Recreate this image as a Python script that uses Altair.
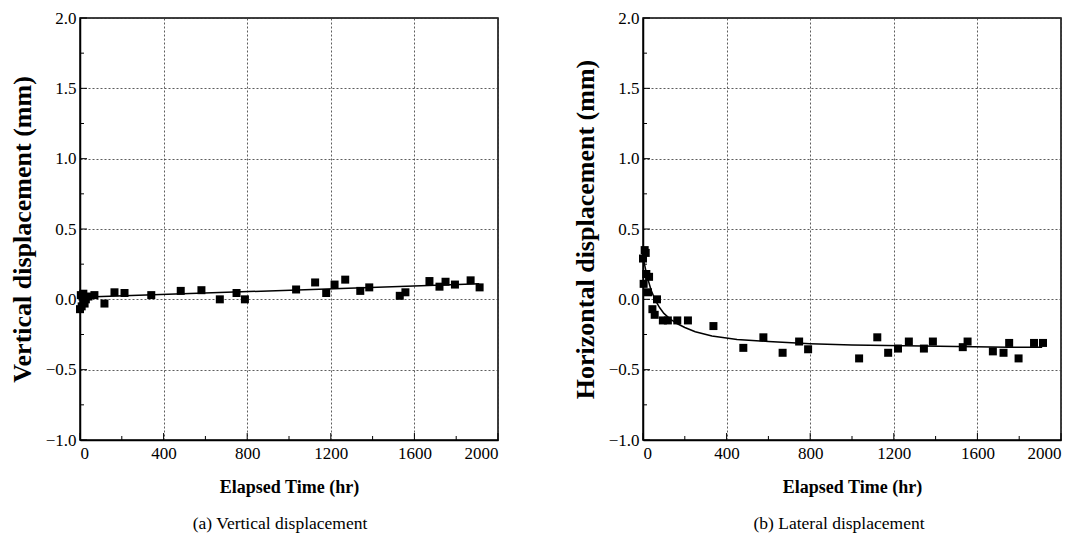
import altair as alt
import pandas as pd

# ---- data ----
left_t = [0, 4, 8, 12, 16, 22, 28, 40, 69, 117, 165, 213, 341, 482, 581, 669, 749, 789,
          1034, 1125, 1178, 1218, 1269, 1341, 1384, 1530, 1557, 1672, 1720, 1749, 1794, 1869, 1912]
left_v = [-0.07, 0.03, -0.05, 0.02, 0.04, -0.03, 0.0, 0.02, 0.03, -0.03, 0.05, 0.045, 0.03, 0.06,
          0.065, 0.0, 0.045, 0.0, 0.07, 0.12, 0.045, 0.105, 0.14, 0.06, 0.085, 0.025, 0.05, 0.13,
          0.09, 0.125, 0.105, 0.135, 0.085]
left_fit_t = [0, 1910]
left_fit_v = [0.015, 0.11]

right_t = [0, 3, 8, 13, 16, 24, 29, 45, 56, 67, 95, 119, 164, 215, 337, 480, 576, 668, 747, 790,
           1034, 1121, 1173, 1220, 1272, 1344, 1387, 1530, 1553, 1674, 1725, 1752, 1797, 1871, 1914]
right_v = [0.29, 0.11, 0.35, 0.33, 0.18, 0.05, 0.16, -0.07, -0.11, 0.0, -0.15, -0.15, -0.15, -0.15,
           -0.19, -0.345, -0.27, -0.38, -0.30, -0.355, -0.42, -0.27, -0.38, -0.35, -0.30, -0.35,
           -0.30, -0.34, -0.30, -0.37, -0.38, -0.31, -0.42, -0.31, -0.31]
right_fit_t = [0, 20, 40, 60, 80, 100, 130, 160, 200, 250, 330, 450, 600, 800, 1000, 1250, 1500, 1750, 1910]
right_fit_v = [0.30, 0.16, 0.06, -0.01, -0.06, -0.10, -0.14, -0.17, -0.20, -0.23, -0.26, -0.285,
               -0.30, -0.315, -0.325, -0.33, -0.335, -0.34, -0.34]

x_labels = [0, 400, 800, 1200, 1600, 2000]
x_minor = [200, 600, 1000, 1400, 1800]
y_labels = [-1.0, -0.5, 0.0, 0.5, 1.0, 1.5, 2.0]
y_minor = [-0.75, -0.25, 0.25, 0.75, 1.25, 1.75]

W, H = 418, 422
SERIF = "Liberation Serif, Times New Roman, serif"


def panel(pt_t, pt_v, fit_t, fit_v, ytitle, caption, cap_dx):
    xs = alt.Scale(domain=[0, 2000], nice=False, zero=False)
    ys = alt.Scale(domain=[-1, 2], nice=False, zero=False)
    df_pts = pd.DataFrame({"t": pt_t, "v": pt_v})
    df_fit = pd.DataFrame({"t": fit_t, "v": fit_v})

    X = alt.X("t:Q", scale=xs, axis=alt.Axis(
        values=x_labels, format="d", title="Elapsed Time (hr)",
        labelFont=SERIF, labelFontSize=17, titleFont=SERIF, titleFontSize=18,
        titleFontWeight="bold", titlePadding=17, labelPadding=5))
    Y = alt.Y("v:Q", scale=ys, axis=alt.Axis(
        values=y_labels, format=".1f", title=ytitle,
        labelFont=SERIF, labelFontSize=17, titleFont=SERIF, titleFontSize=26,
        titleFontWeight="bold", titlePadding=10, labelPadding=4))

    pts = alt.Chart(df_pts).mark_square(size=64, color="black", opacity=1).encode(x=X, y=Y)
    fit = alt.Chart(df_fit).mark_line(color="black", strokeWidth=1.5).encode(x=X, y=Y)

    xmaj = alt.Chart(pd.DataFrame({"t": x_labels})).mark_rule(color="black").encode(
        x=X, y=alt.value(H), y2=alt.value(H - 7))
    xmin = alt.Chart(pd.DataFrame({"t": x_minor})).mark_rule(color="black").encode(
        x=X, y=alt.value(H), y2=alt.value(H - 4))
    ymaj = alt.Chart(pd.DataFrame({"v": y_labels})).mark_rule(color="black").encode(
        y=Y, x=alt.value(0), x2=alt.value(7))
    ymin = alt.Chart(pd.DataFrame({"v": y_minor})).mark_rule(color="black").encode(
        y=Y, x=alt.value(0), x2=alt.value(4))

    return alt.layer(pts, fit, xmaj, xmin, ymaj, ymin).properties(
        width=W, height=H,
        title=alt.TitleParams(caption, orient="bottom", font=SERIF, fontSize=17.5,
                              fontWeight="normal", offset=19, color="black", dx=cap_dx),
    )


left = panel(left_t, left_v, left_fit_t, left_fit_v, "Vertical displacement (mm)",
             "(a) Vertical displacement", -9)
right = panel(right_t, right_v, right_fit_t, right_fit_v, "Horizontal displacement (mm)",
              "(b) Lateral displacement", -13)

chart = alt.hconcat(left, right, spacing=145, bounds="flush").properties(
    padding={"left": 0, "top": 0, "right": 5, "bottom": 0},
    background="white",
).configure_view(
    stroke="black", strokeWidth=1.5
).configure_axis(
    labelColor="black", titleColor="black",
    domain=True, domainColor="black", domainWidth=1.5, ticks=False,
    grid=True, gridColor="#333333", gridDash=[2, 2], gridWidth=0.8,
)

chart.save("out.html", embed_options={"renderer": "svg", "actions": False})
